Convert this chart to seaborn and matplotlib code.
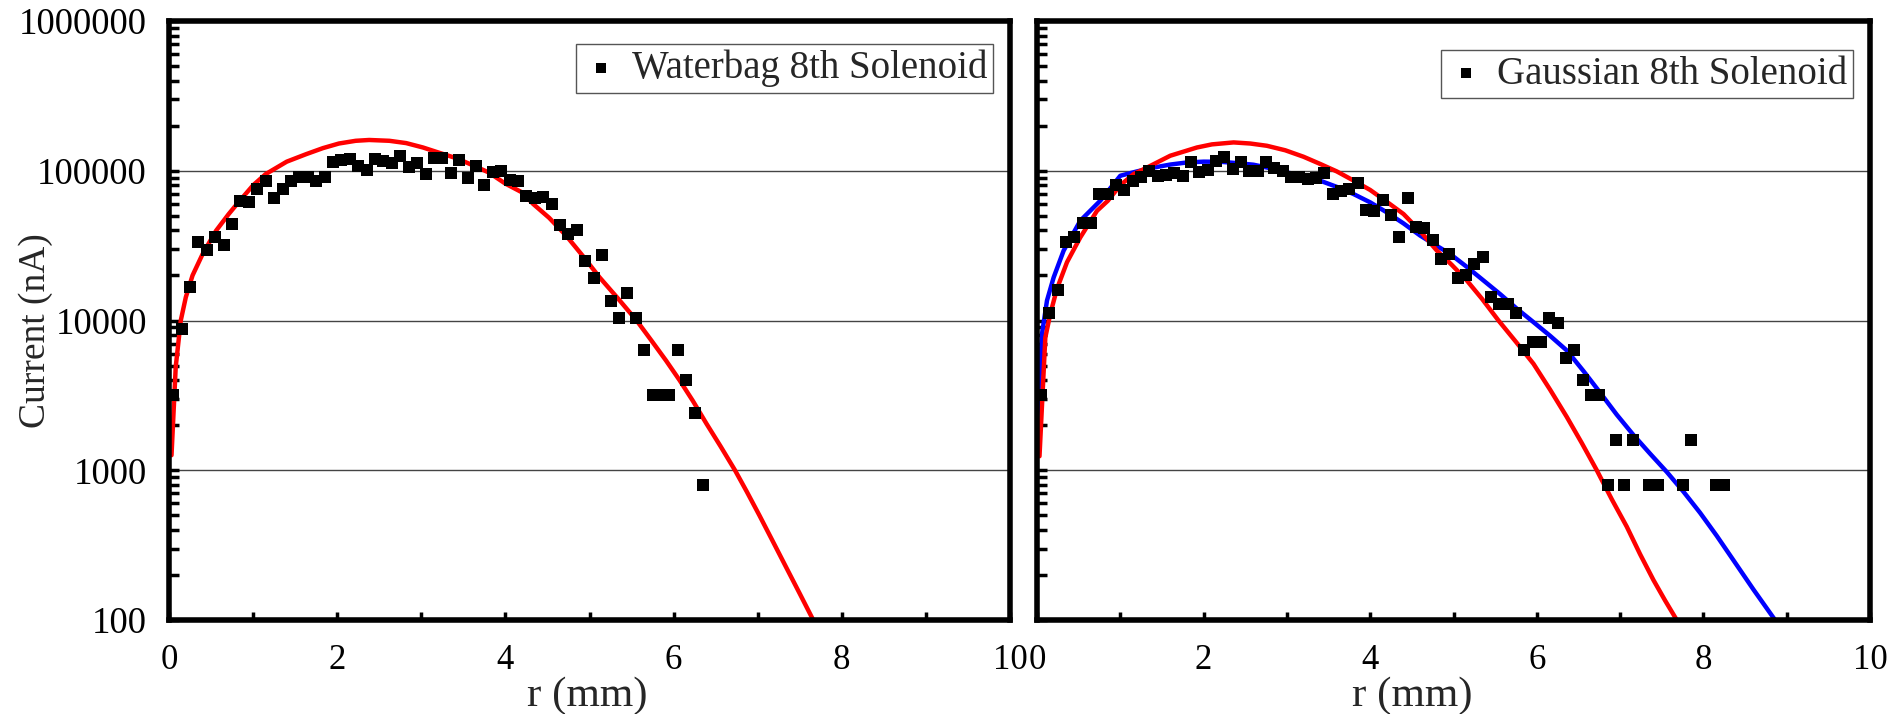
import matplotlib
matplotlib.use("Agg")
import matplotlib.pyplot as plt
import seaborn as sns
from matplotlib.ticker import LogLocator, NullFormatter, MultipleLocator

# --- measured points (r in mm, current in nA) ---
wb_r = [0.05, 0.15, 0.25, 0.35, 0.45, 0.55, 0.65, 0.75, 0.85, 0.95,
        1.05, 1.15, 1.25, 1.35, 1.45, 1.55, 1.65, 1.75, 1.85, 1.95,
        2.05, 2.15, 2.25, 2.35, 2.45, 2.55, 2.65, 2.75, 2.85, 2.95,
        3.05, 3.15, 3.25, 3.35, 3.45, 3.55, 3.65, 3.75, 3.85, 3.95,
        4.05, 4.15, 4.25, 4.35, 4.45, 4.55, 4.65, 4.75, 4.85, 4.95,
        5.05, 5.15, 5.25, 5.35, 5.45, 5.55, 5.65, 5.75, 5.85, 5.95,
        6.05, 6.15, 6.25, 6.35]
wb_i = [3200, 8800, 16800, 33600, 29600, 36000, 32000, 44000, 62400, 61600,
        75200, 84800, 65600, 75200, 84800, 90400, 90400, 85600, 91200, 113600,
        117600, 119200, 108000, 100800, 119200, 116800, 112000, 125600, 106400, 112000,
        94400, 120800, 122400, 96000, 117600, 88800, 107200, 80000, 97600, 99200,
        86400, 85600, 68000, 65600, 66400, 60000, 43200, 37600, 40000, 24800,
        19200, 27200, 13600, 10400, 15200, 10400, 6400, 3200, 3200, 3200,
        6400, 4000, 2400, 800]

ga_r = [0.05, 0.15, 0.25, 0.35, 0.45, 0.55, 0.65, 0.75, 0.85, 0.95,
        1.05, 1.15, 1.25, 1.35, 1.45, 1.55, 1.65, 1.75, 1.85, 1.95,
        2.05, 2.15, 2.25, 2.35, 2.45, 2.55, 2.65, 2.75, 2.85, 2.95,
        3.05, 3.15, 3.25, 3.35, 3.45, 3.55, 3.65, 3.75, 3.85, 3.95,
        4.05, 4.15, 4.25, 4.35, 4.45, 4.55, 4.65, 4.75, 4.85, 4.95,
        5.05, 5.15, 5.25, 5.35, 5.45, 5.55, 5.65, 5.75, 5.85, 5.95,
        6.05, 6.15, 6.25, 6.35, 6.45, 6.55, 6.65, 6.75, 6.85, 6.95,
        7.05, 7.15, 7.35, 7.45, 7.75, 7.85, 8.15, 8.25]
ga_i = [3200, 11200, 16000, 33600, 36000, 44800, 44800, 69600, 69600, 80000,
        74400, 85600, 91200, 100000, 92800, 93600, 96000, 92800, 113600, 97600,
        100800, 116800, 124000, 102400, 113600, 100000, 99200, 114400, 104000, 100000,
        91200, 90400, 88000, 88800, 96000, 69600, 73600, 75200, 82400, 54400,
        53600, 64000, 50400, 36000, 65600, 42400, 41600, 34400, 25600, 28000,
        19200, 20000, 24000, 26400, 14400, 12800, 12800, 11200, 6400, 7200,
        7200, 10400, 9600, 5600, 6400, 4000, 3200, 3200, 800, 1600,
        800, 1600, 800, 800, 800, 1600, 800, 800]

# --- fitted curves ---
wb_fit_r = [0.03, 0.08, 0.14, 0.20, 0.28, 0.40, 0.56, 0.71, 0.83, 1.0, 1.15,
            1.4, 1.63, 1.83, 2.02, 2.22, 2.38, 2.62, 2.82, 3.02, 3.21, 3.41,
            3.61, 3.8, 4.0, 4.2, 4.33, 4.52, 4.72, 4.92, 5.12, 5.34,
            5.56, 5.74, 5.91, 6.07, 6.23, 6.39, 6.56, 6.73, 6.87, 7.02,
            7.18, 7.34, 7.5, 7.66]
wb_fit_i = [1260, 4900, 10000, 14300, 20000, 27800, 39800, 51400, 62000, 80000, 95000,
            115000, 129000, 141600, 152000, 158500, 160500, 158500, 153000, 143000, 132000, 121600,
            109000, 97500, 82000, 71600, 60000, 48500, 37000, 27000, 19400, 14000,
            10000, 7300, 5400, 4000, 2900, 2050, 1440, 1000, 720, 500,
            335, 224, 150, 100]

ga_red_r = [0.03, 0.10, 0.16, 0.24, 0.36, 0.52, 0.72, 0.85, 1.0, 1.16, 1.32, 1.6,
            1.92, 2.1, 2.36, 2.56, 2.76, 2.98, 3.2, 3.4, 3.6, 3.8, 4.0, 4.2, 4.4,
            4.6, 4.8, 4.98, 5.16, 5.34, 5.54, 5.75, 5.96, 6.16,
            6.36, 6.54, 6.72, 6.9, 7.08, 7.24, 7.4, 7.54, 7.68]
ga_red_i = [1240, 7700, 11100, 16300, 24500, 35900, 54000, 63000, 80000, 95000, 105000, 126000,
            143000, 150000, 154600, 152000, 146800, 137000, 124000, 111000, 98900, 86000, 74400, 62000, 51400,
            39500, 29300, 23500, 18500, 14000, 10000, 7200, 5140, 3450,
            2270, 1520, 1000, 640, 420, 275, 185, 135, 100]

ga_blue_r = [0.0, 0.06, 0.12, 0.20, 0.32, 0.52, 0.76, 1.0, 1.2, 1.4, 1.6, 1.8, 2.0, 2.2,
             2.4, 2.6, 2.8, 3.0, 3.2, 3.4, 3.6, 3.8, 4.0, 4.2, 4.4, 4.6, 4.78, 4.96,
             5.16, 5.36, 5.56, 5.76, 5.96, 6.16, 6.36, 6.56, 6.76, 6.96,
             7.16, 7.36, 7.56, 7.76, 7.96, 8.16, 8.36, 8.6, 8.86]
ga_blue_i = [2050, 8150, 13600, 19400, 29300, 46400, 63100, 92600, 99000, 105000, 110000, 113600, 115000, 114800,
             112500, 109700, 104000, 97500, 92000, 85800, 78000, 69900, 61500, 52700, 44500, 36900, 32000, 27800,
             22800, 18500, 15000, 12000, 9750, 7900, 6310, 4600, 3300, 2350,
             1720, 1290, 975, 720, 520, 365, 251, 160, 100]

decades = [100, 1000, 10000, 100000, 1000000]
decade_labels = ["100", "1000", "10000", "100000", "1000000"]

sns.set_theme(style="white")
plt.rcParams["font.family"] = ["Liberation Serif", "DejaVu Serif"]

fig = plt.figure(figsize=(18.89, 7.14), dpi=100)
ax_l = fig.add_axes([169 / 1889, 94 / 714, 841 / 1889, 599 / 714])
ax_r = fig.add_axes([1037 / 1889, 94 / 714, 833 / 1889, 599 / 714])


def style_axis(ax, show_ylabels):
    ax.set_yscale("log")
    ax.set_ylim(100, 1000000)
    ax.set_xlim(0, 10)
    ax.set_yticks(decades)
    ax.set_yticklabels(decade_labels if show_ylabels else [])
    ax.yaxis.set_minor_locator(LogLocator(base=10, subs=range(2, 10), numticks=20))
    ax.yaxis.set_minor_formatter(NullFormatter())
    ax.xaxis.set_major_locator(MultipleLocator(2))
    ax.xaxis.set_minor_locator(MultipleLocator(1))
    ax.tick_params(axis="y", which="both", direction="in", length=7, width=2.5,
                   left=True, right=False, labelsize=26.5, pad=16, colors="black")
    ax.tick_params(axis="x", which="both", direction="in", length=6, width=2.5,
                   bottom=True, top=False, labelsize=25, pad=17, colors="black")
    ax.yaxis.grid(True, which="major", color="#444444", lw=1)
    ax.xaxis.grid(False)
    ax.set_axisbelow(True)
    for sp in ax.spines.values():
        sp.set_visible(True)
        sp.set_color("black")
        sp.set_linewidth(4)
    ax.set_xlabel("")
    ax.set_ylabel("")


# left: waterbag
sns.lineplot(x=wb_fit_r, y=wb_fit_i, color="red", lw=3.2, sort=False,
             estimator=None, legend=False, ax=ax_l, zorder=2)
sns.scatterplot(x=wb_r, y=wb_i, marker="s", s=85, color="black", edgecolor="black",
                linewidth=0, ax=ax_l, label="Waterbag 8th Solenoid", zorder=3)
style_axis(ax_l, True)

# right: gaussian
sns.lineplot(x=ga_blue_r, y=ga_blue_i, color="blue", lw=3.2, sort=False,
             estimator=None, legend=False, ax=ax_r, zorder=2)
sns.lineplot(x=ga_red_r, y=ga_red_i, color="red", lw=3.2, sort=False,
             estimator=None, legend=False, ax=ax_r, zorder=2)
sns.scatterplot(x=ga_r, y=ga_i, marker="s", s=85, color="black", edgecolor="black",
                linewidth=0, ax=ax_r, label="Gaussian 8th Solenoid", zorder=3)
style_axis(ax_r, False)

for ax, anchor in [(ax_l, (0.98, 0.962)), (ax_r, (0.98, 0.952))]:
    leg = ax.legend(loc="upper right", bbox_to_anchor=anchor, frameon=True,
                    fancybox=False, framealpha=1, edgecolor="#555555",
                    fontsize=28, handletextpad=0.3, borderpad=0.15,
                    handlelength=1.0, markerscale=0.75, borderaxespad=0)
    leg.get_frame().set_linewidth(1.0)

fig.text(36 / 1889, 1 - 331 / 714, "Current (nA)", rotation=90, ha="center",
         va="center", fontsize=27)
fig.text(587 / 1889, 1 - 696 / 714, "r (mm)", ha="center", va="center", fontsize=31)
fig.text(1412 / 1889, 1 - 696 / 714, "r (mm)", ha="center", va="center", fontsize=31)

fig.savefig("out.png", dpi=100)
plt.close(fig)
